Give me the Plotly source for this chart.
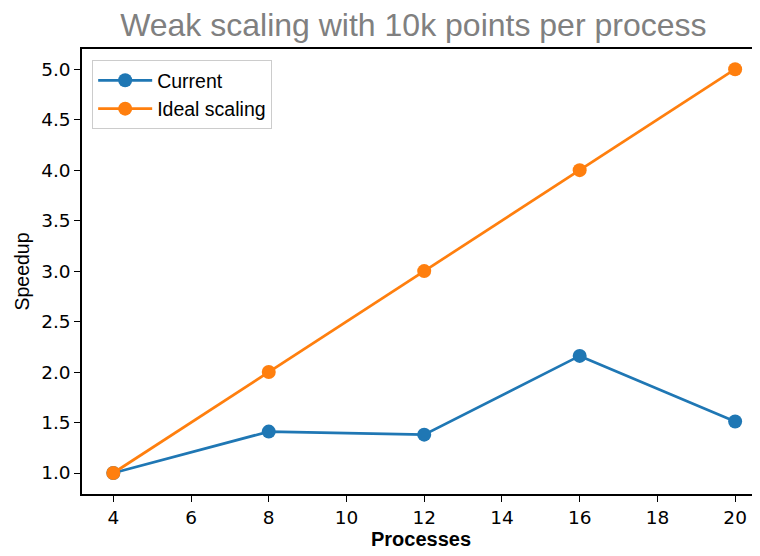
import plotly.graph_objects as go

processes = [4, 8, 12, 16, 20]
current = [1.0, 1.41, 1.38, 2.16, 1.51]
ideal = [1.0, 2.0, 3.0, 4.0, 5.0]
series_names = ["Current", "Ideal scaling"]
colors = ["#1f77b4", "#ff7f0e"]
y_ticks = [1.0, 1.5, 2.0, 2.5, 3.0, 3.5, 4.0, 4.5, 5.0]
x_ticks = [4, 6, 8, 10, 12, 14, 16, 18, 20]

fig = go.Figure()
for name, ys, c in zip(series_names, [current, ideal], colors):
    fig.add_trace(go.Scatter(
        x=processes, y=ys, name=name, mode="lines+markers",
        line=dict(color=c, width=2.7),
        marker=dict(color=c, size=14),
    ))

# page body has an 8px margin, so the figure is 752x548 placed at (8, 8)
fig.update_layout(
    width=752, height=548,
    margin=dict(l=74, r=0, t=41, b=62),
    plot_bgcolor="white", paper_bgcolor="white",
    title=dict(text="Weak scaling with 10k points per process",
               font=dict(family="Liberation Sans, Arial", size=32, color="#808080"),
               x=0.539, xanchor="center", y=0.97, yanchor="middle"),
    showlegend=True,
    legend=dict(x=0.015, y=0.975, xanchor="left", yanchor="top",
                bgcolor="rgba(255,255,255,0.8)", bordercolor="#cccccc", borderwidth=1,
                font=dict(family="Liberation Sans, Arial", size=19.5, color="black"),
                itemwidth=54, tracegroupgap=2),
    xaxis=dict(range=[3.195, 20.64], tickmode="array", tickvals=x_ticks,
               ticks="outside", ticklen=6, tickwidth=1.3, tickcolor="black",
               showline=True, linecolor="black", linewidth=1.5, mirror=True,
               showgrid=False, zeroline=False,
               tickfont=dict(family="DejaVu Sans", size=18.5, color="black"),
               title=dict(text="<b>Processes</b>", standoff=3,
                          font=dict(family="Liberation Sans, Arial", size=20, color="black"))),
    yaxis=dict(range=[0.792, 5.2], tickmode="array", tickvals=y_ticks,
               tickformat=".1f",
               ticks="outside", ticklen=6, tickwidth=1.3, tickcolor="black",
               showline=True, linecolor="black", linewidth=1.5, mirror=False,
               showgrid=False, zeroline=False,
               tickfont=dict(family="DejaVu Sans", size=18.5, color="black"),
               title=dict(text="Speedup", standoff=6,
                          font=dict(family="Liberation Sans, Arial", size=19.5, color="black"))),
)

fig.write_html("out.html")
